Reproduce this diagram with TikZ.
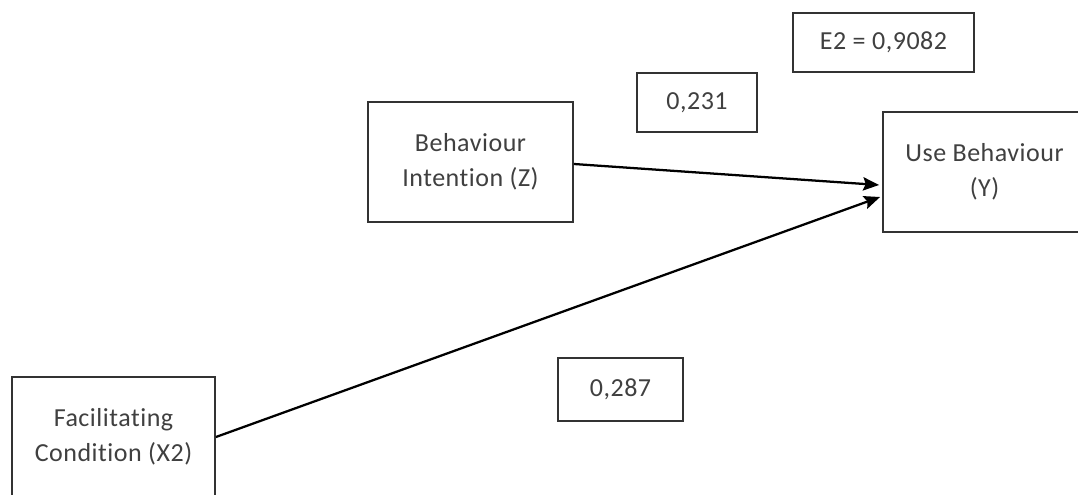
\documentclass[tikz,border=0pt]{standalone}
\usepackage{fontspec}
\setmainfont{Carlito}[Ligatures=NoCommon,LetterSpace=2]
\usetikzlibrary{arrows.meta}
\begin{document}
\begin{tikzpicture}[x=0.75pt,y=-0.75pt,
  box/.style={draw=black!80,line width=1.4pt,fill=white,inner sep=0pt,align=center,
    font=\fontsize{19.5pt}{26.25pt}\selectfont,text=black!75},
  arr/.style={line width=1.7pt,-{Stealth[length=12pt,width=10pt,inset=2pt]}}]
\useasboundingbox (0,0) rectangle (1078,495);
\clip (0,0) rectangle (1078,495);
\node[box,minimum width=181*0.75pt,minimum height=59*0.75pt] (e2) at (883.5,42.5) {E2 = 0,9082};
\node[box,minimum width=120*0.75pt,minimum height=59*0.75pt] (p1) at (697,102.5) {0,231};
\node[box,minimum width=205*0.75pt,minimum height=120*0.75pt] (bi) at (470.5,162) {Behaviour\\Intention (Z)};
\node[box,minimum width=203*0.75pt,minimum height=120*0.75pt] (ub) at (984.5,172) {Use Behaviour\\(Y)};
\node[box,minimum width=125*0.75pt,minimum height=63*0.75pt] (p2) at (620.5,389.5) {0,287};
\node[box,minimum width=203*0.75pt,minimum height=120*0.75pt] (fc) at (113.5,437) {Facilitating\\Condition (X2)};
\draw[arr] ([shift={(0,2)}]bi.east) -- ([shift={(-3,13)}]ub.west);
\draw[arr] (fc.east) -- ([shift={(-2,25)}]ub.west);
\end{tikzpicture}
\end{document}
